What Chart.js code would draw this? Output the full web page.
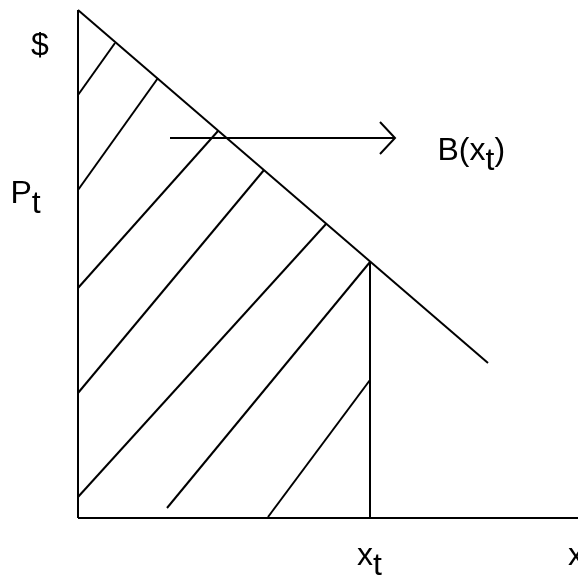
<!DOCTYPE html>
<html>
<head>
<meta charset="utf-8">
<script src="https://cdn.jsdelivr.net/npm/chart.js@4"></script>
<style>
  html, body { margin: 0; padding: 0; background: #fff; }
  #wrap { width: 578px; height: 577px; }
</style>
</head>
<body>
<div id="wrap"><canvas id="chart" width="578" height="577"></canvas></div>
<script>
// 数据（任意单位：数量 x，价格 $）
const axisY = [{ x: 0, y: 0 }, { x: 0, y: 101.6 }];
const axisX = [{ x: 0, y: 0 }, { x: 100, y: 0 }];
const demandCurve = [{ x: 0, y: 101.6 }, { x: 82, y: 31 }];
const xtLine = [{ x: 58.4, y: 0 }, { x: 58.4, y: 51.3 }];

// 阴影斜线（消费者剩余区域）
const hatchLines = [
    [{ x: 0, y: 84.6 }, { x: 7.4, y: 95 }],
    [{ x: 0, y: 65.6 }, { x: 16, y: 88 }],
    [{ x: 0, y: 46 }, { x: 28, y: 77.4 }],
    [{ x: 0, y: 25 }, { x: 37.2, y: 69.6 }],
    [{ x: 0, y: 4.2 }, { x: 49.6, y: 58.8 }],
    [{ x: 17.8, y: 2 }, { x: 58.4, y: 51.2 }],
    [{ x: 38, y: 0.2 }, { x: 58.4, y: 27.6 }]
];

// 箭头
const arrowShaft = [{ x: 18.4, y: 76 }, { x: 63.4, y: 76 }];
const arrowHead = [{ x: 60.4, y: 79.2 }, { x: 63.4, y: 76 }, { x: 60.4, y: 72.8 }];

// 文字标签: [主文字, 下标, 后缀, x, y]
const labels = [
    ['$', '', '', -9.4, 92.6],
    ['P', 't', '', -13.5, 63],
    ['B(x', 't', ')', 71.9, 71.6],
    ['x', 't', '', 55.8, -9.4],
    ['x', '', '', 98, -9.4]
];

function lineSet(data) {
    return {
        data: data,
        showLine: true,
        borderColor: '#000',
        borderWidth: 2,
        pointRadius: 0,
        fill: false,
        tension: 0
    };
}

// 文字插件
const textPlugin = {
    id: 'textLabels',
    afterDraw(chart) {
        const ctx = chart.ctx;
        const sx = chart.scales.x;
        const sy = chart.scales.y;
        ctx.save();
        ctx.fillStyle = '#000';
        ctx.textBaseline = 'alphabetic';
        ctx.font = '32px "Liberation Sans", Arial, sans-serif';
        labels.forEach(([main, sub, tail, vx, vy]) => {
            let px = sx.getPixelForValue(vx);
            const py = sy.getPixelForValue(vy);
            ctx.fillText(main, px, py);
            px += ctx.measureText(main).width;
            if (sub) {
                ctx.fillText(sub, px, py + 10);
                px += ctx.measureText(sub).width;
            }
            if (tail) {
                ctx.fillText(tail, px, py);
            }
        });
        ctx.restore();
    }
};

const datasets = [
    lineSet(axisY),
    lineSet(axisX),
    lineSet(demandCurve),
    lineSet(xtLine),
    ...hatchLines.map(lineSet),
    lineSet(arrowShaft),
    lineSet(arrowHead)
];

new Chart(document.getElementById('chart').getContext('2d'), {
    type: 'scatter',
    data: { datasets: datasets },
    options: {
        responsive: false,
        devicePixelRatio: 1,
        animation: false,
        layout: { padding: 0 },
        plugins: {
            legend: { display: false },
            tooltip: { enabled: false }
        },
        scales: {
            x: { type: 'linear', display: false, min: -15.6, max: 100 },
            y: { type: 'linear', display: false, min: -11.8, max: 103.6 }
        }
    },
    plugins: [textPlugin]
});
</script>
</body>
</html>
